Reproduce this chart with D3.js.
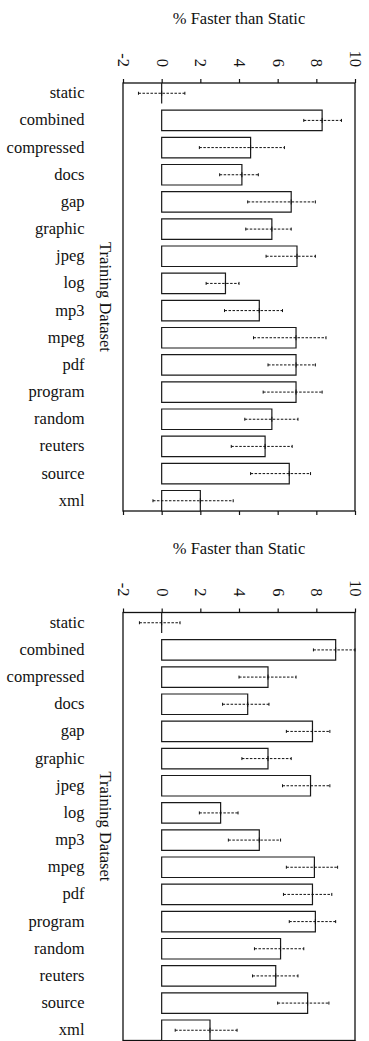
<!DOCTYPE html>
<html>
<head>
<meta charset="utf-8">
<script src="https://cdn.jsdelivr.net/npm/d3@7"></script>
<style>
  html, body { margin: 0; padding: 0; background: #fff; }
  svg { display: block; }
</style>
</head>
<body>
<svg id="chart" width="369" height="1041"></svg>
<script>
// Training datasets (one row per dataset)
const categories = ["static", "combined", "compressed", "docs", "gap", "graphic", "jpeg",
  "log", "mp3", "mpeg", "pdf", "program", "random", "reuters", "source", "xml"];

// Upper panel: mean speedup and the low / high ends of its spread (%)
const meanTop = [0, 8.3, 4.6, 4.15, 6.7, 5.7, 7.0, 3.3, 5.05, 6.95, 6.95, 6.95, 5.7, 5.35, 6.6, 2.0];
const lowTop  = [-1.2, 7.35, 1.95, 3.0, 4.45, 4.35, 5.4, 2.3, 3.25, 4.75, 5.5, 5.25, 4.3, 3.6, 4.6, -0.45];
const highTop = [1.2, 9.3, 6.35, 5.0, 7.95, 6.7, 7.95, 4.0, 6.25, 8.5, 7.95, 8.3, 7.05, 6.75, 7.7, 3.7];

// Lower panel
const meanBottom = [0, 9.0, 5.5, 4.45, 7.8, 5.5, 7.7, 3.05, 5.05, 7.9, 7.8, 7.95, 6.15, 5.9, 7.55, 2.5];
const lowBottom  = [-1.15, 7.85, 4.0, 3.15, 6.45, 4.15, 6.25, 1.95, 3.45, 6.45, 6.3, 6.6, 4.8, 4.7, 6.0, 0.7];
const highBottom = [0.95, 10.0, 6.95, 5.55, 8.7, 6.7, 8.7, 3.95, 6.15, 9.1, 8.8, 9.0, 7.35, 7.05, 8.65, 3.9];

const tickValues = [-2, 0, 2, 4, 6, 8, 10];
const axisTitle = "% Faster than Static";
const groupTitle = "Training Dataset";

const FONT = "\"Liberation Serif\"";

const svg = d3.select("#chart");

const x = d3.scaleLinear().domain([-2, 10]).range([123, 355]);
const y = d3.scaleBand().domain(categories).range([83, 511]).paddingInner(0.245).paddingOuter(0);

function drawPanel(offsetY, mean, low, high) {
  const g = svg.append("g").attr("transform", `translate(0,${offsetY})`);
  const rows = categories.map((c, i) => ({ c, v: mean[i], lo: low[i], hi: high[i] }));

  // title above the axis
  g.append("text")
    .attr("x", (x.range()[0] + x.range()[1]) / 2)
    .attr("y", 24)
    .attr("text-anchor", "middle")
    .attr("font-family", FONT).attr("font-size", 16.5).attr("fill", "#111")
    .text(axisTitle);

  const top = y.range()[0], bottom = y.range()[1];

  // frame
  g.append("rect")
    .attr("x", x.range()[0]).attr("y", top)
    .attr("width", x.range()[1] - x.range()[0])
    .attr("height", bottom - top)
    .attr("fill", "none").attr("stroke", "#111").attr("stroke-width", 1.3);

  // top axis with rotated labels
  const axTop = g.append("g").attr("transform", `translate(0,${top})`)
    .call(d3.axisTop(x).tickValues(tickValues).tickSize(4).tickSizeOuter(0).tickFormat(d => String(d)));
  axTop.attr("font-family", FONT).attr("font-size", 16.5);
  axTop.select(".domain").remove();
  axTop.selectAll(".tick line").attr("stroke", "#111").attr("stroke-width", 1.2);
  axTop.selectAll(".tick text")
    .attr("transform", "rotate(90)")
    .attr("x", -16).attr("y", 0).attr("dy", "0.33em")
    .attr("text-anchor", "end")
    .attr("font-family", FONT)
    .attr("fill", "#111");

  // bottom axis, ticks only
  const axBot = g.append("g").attr("transform", `translate(0,${bottom})`)
    .call(d3.axisBottom(x).tickValues(tickValues).tickSize(4).tickSizeOuter(0).tickFormat(""));
  axBot.select(".domain").remove();
  axBot.selectAll(".tick line").attr("stroke", "#111").attr("stroke-width", 1.2);

  // category labels
  g.selectAll("text.cat").data(rows).enter().append("text")
    .attr("class", "cat")
    .attr("x", 84.5)
    .attr("y", d => y(d.c) + y.bandwidth() / 2)
    .attr("dy", "0.3em")
    .attr("text-anchor", "end")
    .attr("font-family", FONT).attr("font-size", 16.5).attr("fill", "#111")
    .text(d => d.c);

  // rotated group label
  g.append("text")
    .attr("transform", `translate(105,${(top + bottom) / 2}) rotate(90)`)
    .attr("text-anchor", "middle")
    .attr("dy", "0.33em")
    .attr("font-family", FONT).attr("font-size", 16.5).attr("fill", "#111")
    .text(groupTitle);

  // bars (path so a zero-width bar still shows its edge)
  g.selectAll("path.bar").data(rows).enter().append("path")
    .attr("class", "bar")
    .attr("d", d => {
      const x0 = x(0), x1 = x(d.v), y0 = y(d.c), h = y.bandwidth();
      return `M${x0},${y0}H${x1}V${y0 + h}H${x0}Z`;
    })
    .attr("fill", "#fff").attr("stroke", "#1a1a1a").attr("stroke-width", 1.2);

  // spread: dashed line with end caps and a mark at the mean
  const eb = g.selectAll("g.err").data(rows).enter().append("g").attr("class", "err");
  eb.append("line")
    .attr("x1", d => x(d.lo)).attr("x2", d => x(d.hi))
    .attr("y1", d => y(d.c) + y.bandwidth() / 2).attr("y2", d => y(d.c) + y.bandwidth() / 2)
    .attr("stroke", "#111").attr("stroke-width", 1).attr("stroke-dasharray", "2.5,1.5");
  ["lo", "hi"].forEach(k => {
    eb.append("line")
      .attr("x1", d => x(d[k])).attr("x2", d => x(d[k]))
      .attr("y1", d => y(d.c) + y.bandwidth() / 2 - 1.5)
      .attr("y2", d => y(d.c) + y.bandwidth() / 2 + 1.5)
      .attr("stroke", "#111").attr("stroke-width", 1);
  });
  eb.append("line")
    .attr("x1", d => x(d.v)).attr("x2", d => x(d.v))
    .attr("y1", d => y(d.c) + y.bandwidth() / 2 - 2.5)
    .attr("y2", d => y(d.c) + y.bandwidth() / 2 + 2.5)
    .attr("stroke", "#111").attr("stroke-width", 1);
}

drawPanel(0, meanTop, lowTop, highTop);
drawPanel(529.5, meanBottom, lowBottom, highBottom);
</script>
</body>
</html>
